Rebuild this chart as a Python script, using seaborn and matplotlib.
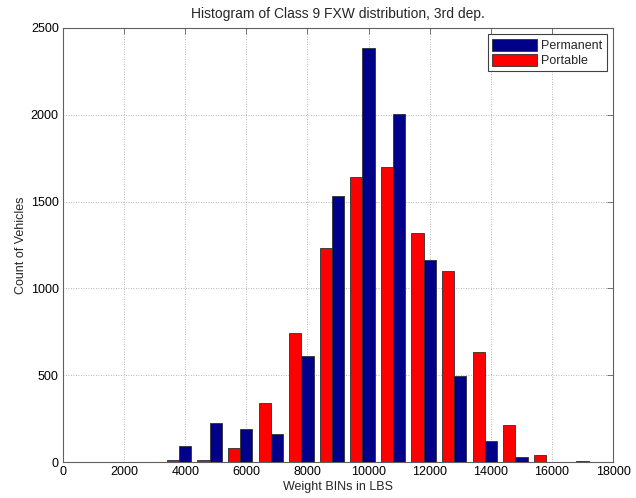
import matplotlib
matplotlib.use("Agg")
import matplotlib.pyplot as plt
import seaborn as sns
import pandas as pd

# Bin centres (lbs) of the grouped histogram; each group holds one bar per source
bin_centers = [3800, 4800, 5800, 6800, 7800, 8800, 9800, 10800,
               11800, 12800, 13800, 14800, 15800, 16800]
permanent = [95, 228, 190, 163, 612, 1532, 2385, 2005,
             1164, 497, 122, 27, 3, 6]
portable = [12, 15, 80, 343, 743, 1231, 1642, 1701,
            1322, 1098, 634, 213, 42, 2]

series_names = ["Permanent", "Portable"]
series_colors = {"Permanent": "#000088", "Portable": "#ff0000"}
x_ticks = [0, 2000, 4000, 6000, 8000, 10000, 12000, 14000, 16000, 18000]
y_ticks = [0, 500, 1000, 1500, 2000, 2500]

df = pd.DataFrame({
    "bin": bin_centers * 2,
    "count": permanent + portable,
    "source": ["Permanent"] * len(permanent) + ["Portable"] * len(portable),
})

sns.set_theme(style="white")
plt.rcParams["font.family"] = ["Liberation Sans", "DejaVu Sans"]

fig = plt.figure(figsize=(6.36, 4.98), dpi=100)
ax = fig.add_axes([0.099, 0.072, 0.865, 0.872])

sns.barplot(data=df, x="bin", y="count", hue="source",
            hue_order=["Portable", "Permanent"], palette=series_colors,
            native_scale=True, width=0.8, saturation=1,
            edgecolor="#303030", linewidth=0.6, ax=ax, zorder=3)

ax.set_xlim(0, 18000)
ax.set_ylim(0, 2500)
ax.set_xticks(x_ticks)
ax.set_yticks(y_ticks)
ax.set_xticklabels([str(t) for t in x_ticks])
ax.set_yticklabels([str(t) for t in y_ticks])

ax.set_axisbelow(True)
ax.grid(True, linestyle=(0, (1, 2)), color="#a0a0a0", linewidth=0.6, zorder=0)
for s in ax.spines.values():
    s.set_color("#606060")
    s.set_linewidth(0.8)
    s.set_visible(True)
ax.tick_params(direction="in", length=4, width=0.6, color="#606060",
               top=True, right=True, labelsize=9, pad=3, labelcolor="#000000")

ax.set_title("Histogram of Class 9 FXW distribution, 3rd dep.", fontsize=10, pad=7)
ax.set_xlabel("Weight BINs in LBS", fontsize=9, labelpad=2)
ax.set_ylabel("Count of Vehicles", fontsize=9, labelpad=3)

handles, labels = ax.get_legend_handles_labels()
order = [labels.index(n) for n in series_names]
leg = ax.legend([handles[i] for i in order], [labels[i] for i in order],
                loc="upper right", fontsize=9, frameon=True, fancybox=False,
                framealpha=1, edgecolor="#404040", handlelength=3.6,
                handleheight=1.1, borderaxespad=0.5, borderpad=0.35,
                labelspacing=0.15, handletextpad=0.3)
leg.get_frame().set_linewidth(0.8)

fig.savefig("out.png", dpi=100, facecolor="white")
